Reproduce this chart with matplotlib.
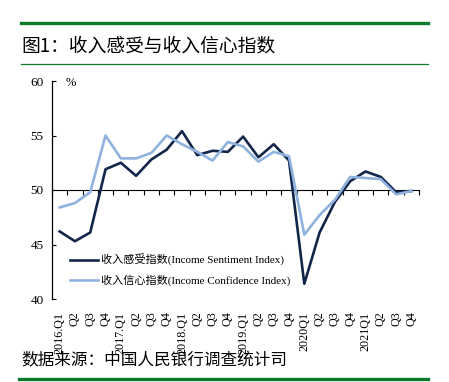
import matplotlib
matplotlib.use("Agg")
import matplotlib.pyplot as plt
from matplotlib.lines import Line2D

plt.rcParams['font.family'] = ['Liberation Serif', 'Noto Sans CJK SC']

# --- data ---
quarters = ["2016.Q1", "Q2", "Q3", "Q4", "2017.Q1", "Q2", "Q3", "Q4",
            "2018.Q1", "Q2", "Q3", "Q4", "2019.Q1", "Q2", "Q3", "Q4",
            "2020Q1", "Q2", "Q3", "Q4", "2021Q1", "Q2", "Q3", "Q4"]
sentiment = [46.2, 45.3, 46.1, 51.9, 52.5, 51.3, 52.8, 53.7,
             55.4, 53.2, 53.6, 53.5, 54.9, 53.0, 54.2, 52.7,
             41.4, 46.1, 48.9, 50.8, 51.7, 51.2, 49.8, 49.9]
confidence = [48.4, 48.8, 49.8, 55.0, 52.9, 52.9, 53.4, 55.0,
              54.2, 53.5, 52.7, 54.4, 54.0, 52.6, 53.5, 53.1,
              45.9, 47.7, 49.1, 51.2, 51.1, 51.0, 49.6, 49.9]
names = ["收入感受指数(Income Sentiment Index)",
         "收入信心指数(Income Confidence Index)"]

DARK = "#12264a"
LIGHT = "#8fb2de"
GREEN = "#0b7a2a"

W, H = 449, 382
fig = plt.figure(figsize=(W / 100, H / 100), dpi=100)


def fx(px):
    return px / W


def fy(py):
    return 1 - py / H


# 頁面裝飾線與標題
fig.add_artist(Line2D([fx(21), fx(428)], [fy(23), fy(23)], color=GREEN, lw=2.4))
fig.add_artist(Line2D([fx(21), fx(428)], [fy(64), fy(64)], color=GREEN, lw=0.9))
fig.add_artist(Line2D([fx(19), fx(428)], [fy(379), fy(379)], color=GREEN, lw=2.4))
fig.text(fx(21), fy(46), "图1：收入感受与收入信心指数", fontsize=13.5,
         family=['Noto Sans CJK SC'], va='center', ha='left')
fig.text(fx(21), fy(361), "数据来源：中国人民银行调查统计司", fontsize=12,
         family=['Noto Sans CJK SC'], va='center', ha='left')

# --- axes ---
ax = fig.add_axes([fx(52), fy(299), fx(419) - fx(52), fy(81) - fy(299)])
x = list(range(len(quarters)))
ax.plot(x, sentiment, color=DARK, lw=1.9, label=names[0])
ax.plot(x, confidence, color=LIGHT, lw=1.9, label=names[1])

ax.set_xlim(-0.5, len(quarters) - 0.5)
ax.set_ylim(40, 60)
ax.set_yticks([40, 45, 50, 55, 60])
ax.tick_params(axis='y', direction='in', length=3, width=0.8, labelsize=9.5, pad=6)
ax.set_xticks(x)
ax.set_xticklabels(quarters, rotation=90, fontsize=8.7)
ax.tick_params(axis='x', length=0, pad=9)

for s in ['top', 'right', 'bottom']:
    ax.spines[s].set_visible(False)
ax.spines['left'].set_linewidth(0.9)

# 50 的橫軸，刻度在季度之間
sec = ax.secondary_xaxis(0.5)
sec.set_xticks([i - 0.5 for i in range(len(quarters) + 1)])
sec.set_xticklabels([])
sec.tick_params(direction='in', length=3.5, width=0.8)
sec.spines['bottom'].set_linewidth(0.9)

ax.text(0.036, 0.99, "%", transform=ax.transAxes, fontsize=9, va='center', ha='left')

ax.legend(loc='upper left', bbox_to_anchor=(0.049, 0.205), frameon=False,
          fontsize=8, handlelength=2.5, handletextpad=0.3, labelspacing=0.75,
          borderpad=0, borderaxespad=0)

fig.savefig("out.png", dpi=100)
